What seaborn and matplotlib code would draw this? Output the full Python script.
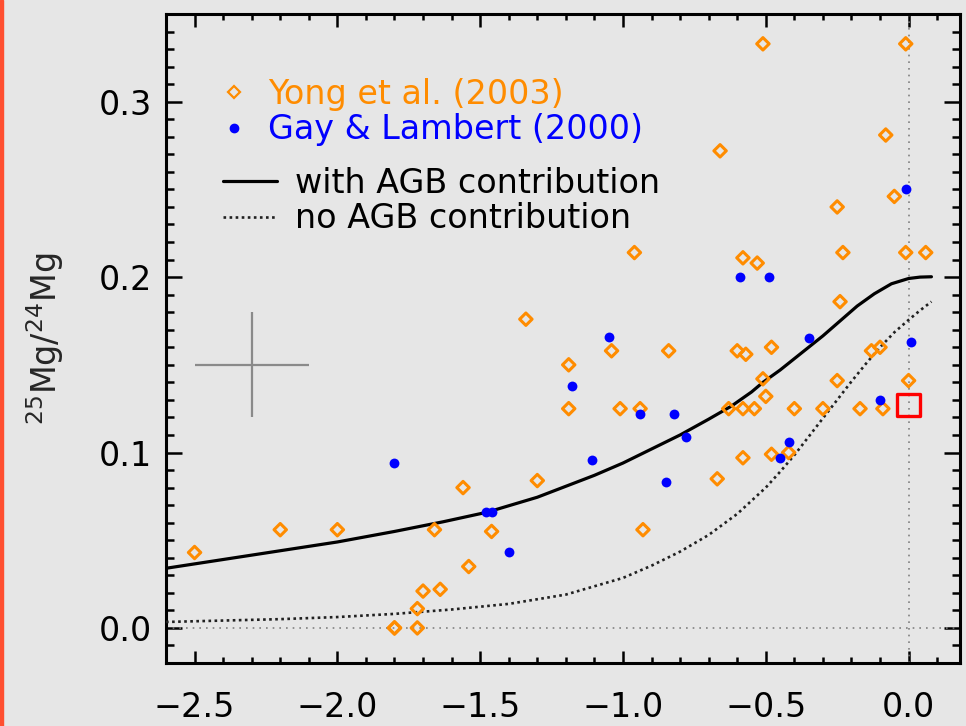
import numpy as np
import pandas as pd
import seaborn as sns
import matplotlib
matplotlib.use("Agg")
import matplotlib.pyplot as plt
from matplotlib.lines import Line2D
from matplotlib.patches import Rectangle
from matplotlib.ticker import FixedLocator, MultipleLocator

# --- Yong et al. (2003): [Fe/H] and 25Mg/24Mg ---
yong_feh = [-2.50, -2.20, -2.00, -1.80, -1.80, -1.72, -1.72, -1.70, -1.64, -1.66,
            -1.56, -1.54, -1.46, -1.30, -1.34, -1.19, -1.19, -1.04, -1.01, -0.94,
            -0.93, -0.96, -0.84, -0.67, -0.66, -0.63, -0.60, -0.58, -0.58, -0.58,
            -0.57, -0.54, -0.53, -0.51, -0.51, -0.50, -0.48, -0.48, -0.42, -0.40,
            -0.30, -0.25, -0.25, -0.24, -0.23, -0.17, -0.13, -0.10, -0.09, -0.08,
            -0.05, -0.01, -0.01, 0.00, 0.06]
yong_ratio = [0.043, 0.056, 0.056, 0.000, 0.000, 0.000, 0.011, 0.021, 0.022, 0.056,
              0.080, 0.035, 0.055, 0.084, 0.176, 0.150, 0.125, 0.158, 0.125, 0.125,
              0.056, 0.214, 0.158, 0.085, 0.272, 0.125, 0.158, 0.125, 0.097, 0.211,
              0.156, 0.125, 0.208, 0.333, 0.142, 0.132, 0.160, 0.099, 0.100, 0.125,
              0.125, 0.240, 0.141, 0.186, 0.214, 0.125, 0.158, 0.160, 0.125, 0.281,
              0.246, 0.333, 0.214, 0.141, 0.214]

# --- Gay & Lambert (2000) ---
gay_feh = [-1.80, -1.48, -1.46, -1.40, -1.18, -1.11, -1.05, -0.94, -0.85, -0.82,
           -0.78, -0.59, -0.49, -0.45, -0.42, -0.35, -0.10, -0.01, 0.01]
gay_ratio = [0.094, 0.066, 0.066, 0.043, 0.138, 0.096, 0.166, 0.122, 0.083, 0.122,
             0.109, 0.200, 0.200, 0.097, 0.106, 0.165, 0.130, 0.250, 0.163]

# --- Solar value ---
sun_feh = [0.0]
sun_ratio = [0.127]

# --- Chemical evolution models ---
agb_feh = [-2.6, -2.4, -2.2, -2.0, -1.8, -1.63, -1.475, -1.3, -1.1, -1.0, -0.9,
           -0.8, -0.7, -0.62, -0.55, -0.51, -0.45, -0.4, -0.35, -0.3, -0.24,
           -0.18, -0.12, -0.06, 0.0, 0.04, 0.08]
agb_ratio = [0.034, 0.039, 0.044, 0.049, 0.055, 0.0605, 0.066, 0.0745, 0.087,
             0.094, 0.102, 0.110, 0.119, 0.1265, 0.1345, 0.140, 0.147, 0.1535,
             0.160, 0.1665, 0.175, 0.1835, 0.1905, 0.1962, 0.1992, 0.2000, 0.2002]
noagb_feh = [-2.6, -2.4, -2.2, -2.0, -1.8, -1.6, -1.4, -1.2, -1.0, -0.9, -0.8,
             -0.7, -0.6, -0.5, -0.45, -0.4, -0.35, -0.3, -0.25, -0.2, -0.15,
             -0.1, -0.05, 0.0, 0.04, 0.08]
noagb_ratio = [0.0034, 0.0042, 0.0050, 0.0062, 0.0080, 0.0105, 0.0137, 0.0190,
               0.0285, 0.0355, 0.0435, 0.0530, 0.0650, 0.0800, 0.0890, 0.0985,
               0.1090, 0.1195, 0.1300, 0.1405, 0.1505, 0.1600, 0.1685, 0.1756,
               0.1810, 0.1860]

# --- Typical error bar ---
err_feh = [-2.3]
err_ratio = [0.15]
err_dfeh = [0.2]
err_dratio = [0.03]

xtick_vals = [-2.5, -2.0, -1.5, -1.0, -0.5, 0.0]
xtick_labels = ["\u22122.5", "\u22122.0", "\u22121.5", "\u22121.0", "\u22120.5", "0.0"]
ytick_vals = [0.0, 0.1, 0.2, 0.3]
ytick_labels = ["0.0", "0.1", "0.2", "0.3"]

labels = ["Yong et al. (2003)", "Gay & Lambert (2000)",
          "with AGB contribution", "no AGB contribution"]

ORANGE = "#ff8c00"
BLUE = "#0000ff"
BG = "#e6e6e6"

sns.set_style("ticks", {"axes.facecolor": BG, "figure.facecolor": BG,
                        "axes.edgecolor": "black"})
plt.rcParams["font.family"] = ["DejaVu Sans"]

fig = plt.figure(figsize=(9.66, 7.26), dpi=100)
ax = fig.add_axes([166 / 966, 1 - 663 / 726, 794 / 966, 649 / 726])
ax.set_facecolor(BG)

# reference lines at solar values
ax.axhline(0.0, color="#808080", lw=1.2, ls=(0, (1, 3)), zorder=1)
ax.axvline(0.0, color="#808080", lw=1.2, ls=(0, (1, 3)), zorder=1)

agb = pd.DataFrame({"feh": agb_feh, "ratio": agb_ratio})
noagb = pd.DataFrame({"feh": noagb_feh, "ratio": noagb_ratio})
sns.lineplot(data=agb, x="feh", y="ratio", ax=ax, color="black", lw=2.3,
             sort=False, zorder=3)
sns.lineplot(data=noagb, x="feh", y="ratio", ax=ax, color="#202020", lw=1.9,
             ls=(0, (1, 1.3)), sort=False, zorder=3)

yong = pd.DataFrame({"feh": yong_feh, "ratio": yong_ratio})
sns.scatterplot(data=yong, x="feh", y="ratio", ax=ax, marker="D", s=40,
                linewidth=2.2, zorder=4)
yong_coll = ax.collections[-1]
yong_coll.set_facecolor("none")
yong_coll.set_edgecolor(ORANGE)

gay = pd.DataFrame({"feh": gay_feh, "ratio": gay_ratio})
sns.scatterplot(data=gay, x="feh", y="ratio", ax=ax, marker="o", s=50,
                color=BLUE, linewidth=0, zorder=5)

sun = pd.DataFrame({"feh": sun_feh, "ratio": sun_ratio})
sns.scatterplot(data=sun, x="feh", y="ratio", ax=ax, marker="s", s=260,
                linewidth=2.4, zorder=6)
sun_coll = ax.collections[-1]
sun_coll.set_facecolor("none")
sun_coll.set_edgecolor("red")

ax.errorbar(err_feh, err_ratio, xerr=err_dfeh, yerr=err_dratio, fmt="none",
            ecolor="#8a8a8a", elinewidth=1.6, capsize=0, zorder=2)

ax.set_xlim(-2.6, 0.18)
ax.set_ylim(-0.02, 0.35)
ax.xaxis.set_major_locator(FixedLocator(xtick_vals))
ax.set_xticklabels(xtick_labels)
ax.yaxis.set_major_locator(FixedLocator(ytick_vals))
ax.set_yticklabels(ytick_labels)
ax.xaxis.set_minor_locator(MultipleLocator(0.1))
ax.yaxis.set_minor_locator(MultipleLocator(0.01))
ax.tick_params(which="both", direction="in", top=True, right=True, width=1.8,
               colors="black")
ax.tick_params(axis="x", which="major", length=9, pad=20, labelsize=24)
ax.tick_params(axis="x", which="minor", length=4.5)
ax.tick_params(axis="y", which="major", length=11.5, pad=10, labelsize=24)
ax.tick_params(axis="y", which="minor", length=5.5)
for sp in ax.spines.values():
    sp.set_linewidth(2.2)
    sp.set_color("black")

ax.set_xlabel("")
ax.set_ylabel(r"$^{25}$Mg/$^{24}$Mg", fontsize=24)
ax.yaxis.set_label_coords(-0.126, 0.5)

# legends: data sets, then models
h_sets = [Line2D([], [], marker="D", ls="none", mfc="none", mec=ORANGE,
                 ms=6, mew=1.6),
          Line2D([], [], marker="o", ls="none", color=BLUE, ms=6)]
leg1 = ax.legend(h_sets, labels[:2], loc="upper left",
                 bbox_to_anchor=(0.066, 0.902), frameon=False, fontsize=24,
                 handlelength=0.95, handletextpad=0.55, labelspacing=0.08,
                 borderpad=0, borderaxespad=0, labelcolor=[ORANGE, BLUE])
ax.add_artist(leg1)
h_models = [Line2D([], [], color="black", lw=2.3),
            Line2D([], [], color="#202020", lw=1.9, ls=(0, (1, 1.3)))]
ax.legend(h_models, labels[2:], loc="upper left",
          bbox_to_anchor=(0.0718, 0.765), frameon=False, fontsize=24,
          handlelength=1.62, handletextpad=0.54, labelspacing=0.08,
          borderpad=0, borderaxespad=0, labelcolor="black")

# red edge on the left of the canvas
fig.patches.append(Rectangle((0, 0), 2.5 / 966, 1, transform=fig.transFigure,
                             color="#ff4f30", zorder=10))

fig.savefig("out.png", dpi=100, facecolor=BG)
